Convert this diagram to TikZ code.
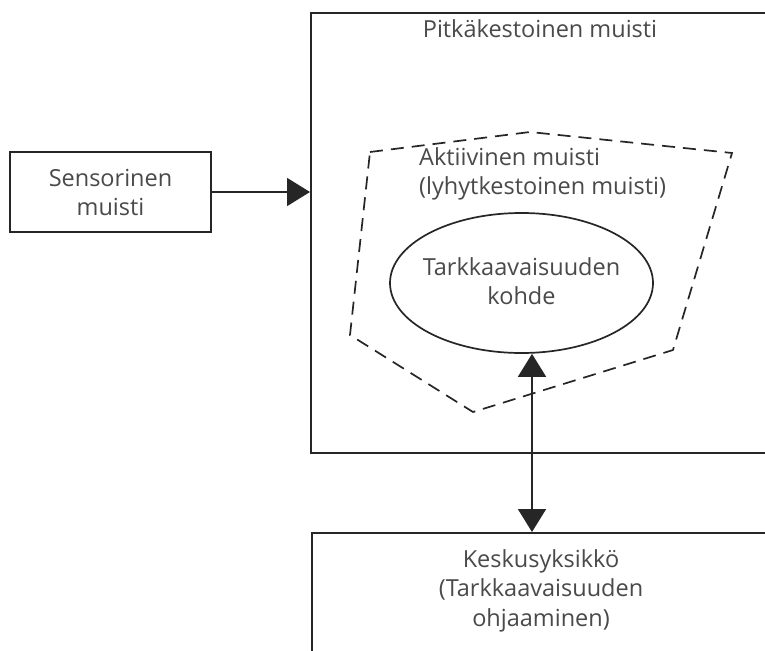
\documentclass[tikz,border=0pt]{standalone}
\usepackage{fontspec}
\setmainfont{Open Sans}
\usetikzlibrary{shapes.geometric,arrows.meta}
\definecolor{txt}{HTML}{4A4A4A}
\definecolor{ln}{HTML}{262626}
\begin{document}
\begin{tikzpicture}[x=1pt,y=-1pt,
  lbl/.style={text=txt,font=\fontsize{23.5}{29.5}\selectfont,align=center,inner sep=0pt},
  boxline/.style={draw=ln,line width=1.7pt,inner sep=0pt},
  tipone/.style={-{Triangle[length=23pt,width=28pt]}},
  tiptwo/.style={{Triangle[length=23pt,width=28pt]}-{Triangle[length=23pt,width=28pt]}},
  conn/.style={draw=ln,line width=1.7pt},
  dashline/.style={draw=ln,line width=1.7pt,dash pattern=on 13pt off 8pt}]
\useasboundingbox (0,0) rectangle (765,650);
\clip (0,0) rectangle (765,650);
\fill[white] (0,0) rectangle (765,650);
% boxes
\node[boxline, minimum width=201pt, minimum height=80pt] (sens) at (110.5,192) {};
\node[lbl, anchor=north] (senstext) at (110.5,169) {Sensorinen\\muisti};
\node[boxline, minimum width=480pt, minimum height=440pt, anchor=north west] (ltm) at (310,12) {};
\node[lbl, anchor=north] (ltmtext) at (540,19) {Pitkäkestoinen muisti};
\node[boxline, minimum width=480pt, minimum height=200pt, anchor=north west] (ctrl) at (311,532) {};
\node[lbl, anchor=north] (ctrltext) at (541,549) {Keskusyksikkö\\(Tarkkaavaisuuden\\ohjaaminen)};
% active memory polygon
\draw[dashline] (370,152) -- (530,132) -- (732,153) -- (673,350) -- (473,412) -- (350,335) -- cycle;
\node[lbl, align=left, anchor=north west] (acttext) at (419,147) {Aktiivinen muisti\\(lyhytkestoinen muisti)};
% focus ellipse
\node[draw=ln, line width=1.7pt, ellipse, minimum width=263pt, minimum height=140pt, inner sep=0pt] (focus) at (521.5,283) {};
\node[lbl, anchor=north] (focustext) at (521.5,257) {Tarkkaavaisuuden\\kohde};
% connectors
\draw[conn, tipone] (sens.east) -- (sens.east -| ltm.west);
\draw[conn, tiptwo] ([xshift=10.5pt]focus.south) -- ([xshift=10.5pt]focus.south |- ctrl.north);
\end{tikzpicture}
\end{document}
